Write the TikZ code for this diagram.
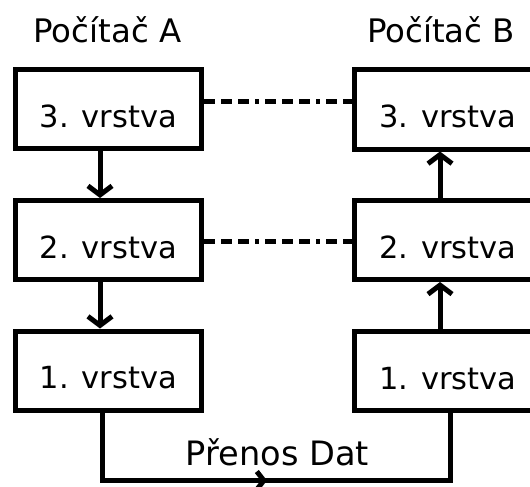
\documentclass[tikz,border=0pt]{standalone}
\usepackage{fontspec}
\setmainfont{DejaVu Sans}
\usetikzlibrary{arrows.meta,decorations.markings}
\begin{document}
\begin{tikzpicture}[x=1pt,y=-1pt,
  layerbox/.style={draw,line width=5pt,minimum width=186.5pt,minimum height=79pt,
    inner sep=0pt,text height=36pt,text depth=0pt,font=\fontsize{30.5}{36}\selectfont},
  title/.style={anchor=base,inner sep=0pt,font=\fontsize{32.4}{38}\selectfont},
  flow/.style={line width=5pt,-{Straight Barb[length=9pt,width=24pt,line width=5pt]}},
  peer/.style={line width=5pt,dash pattern=on 11pt off 6pt on 11pt off 6pt on 11pt off 6pt on 4pt off 6pt}
]
\useasboundingbox (0,0) rectangle (530,487);
\clip (0,0) rectangle (530,487);
\node[title] (ta) at (107.5,43) {Počítač A};
\node[title] (tb) at (441,43) {Počítač B};
\node[layerbox] (A3) at (108.25,109) {3. vrstva};
\node[layerbox] (A2) at (108.25,240) {2. vrstva};
\node[layerbox] (A1) at (108.25,370.5) {1. vrstva};
\node[layerbox] (B3) at (447.75,109.5) {3. vrstva};
\node[layerbox] (B2) at (447.75,240) {2. vrstva};
\node[layerbox] (B1) at (447.75,371) {1. vrstva};
\draw[flow] (A3.south -| 100,0) -- (A2.north -| 100,0);
\draw[flow] (A2.south -| 100,0) -- (A1.north -| 100,0);
\draw[flow] (B1.north -| 440,0) -- (B2.south -| 440,0);
\draw[flow] (B2.north -| 440,0) -- (B3.south -| 440,0);
\draw[peer] ([yshift=8pt]A3.east) -- ([yshift=8pt]A3.east -| B3.west);
\draw[peer] ([yshift=-1pt]A2.east) -- ([yshift=-1pt]A2.east -| B2.west);
\coordinate (c1) at (102,480.5);
\coordinate (c2) at (450,480.5);
\coordinate (mid) at (267,480.5);
\draw[line width=5pt] (A1.south -| c1) -- (c1) -- (mid) -- (c2) -- (B1.south -| c2);
\draw[line width=5pt,-{Straight Barb[length=7pt,width=18pt,line width=5pt]}] (250,480.5) -- (mid);
\node[title,font=\fontsize{33.6}{40}\selectfont] (pd) at (277.5,465) {Přenos Dat};
\end{tikzpicture}
\end{document}
